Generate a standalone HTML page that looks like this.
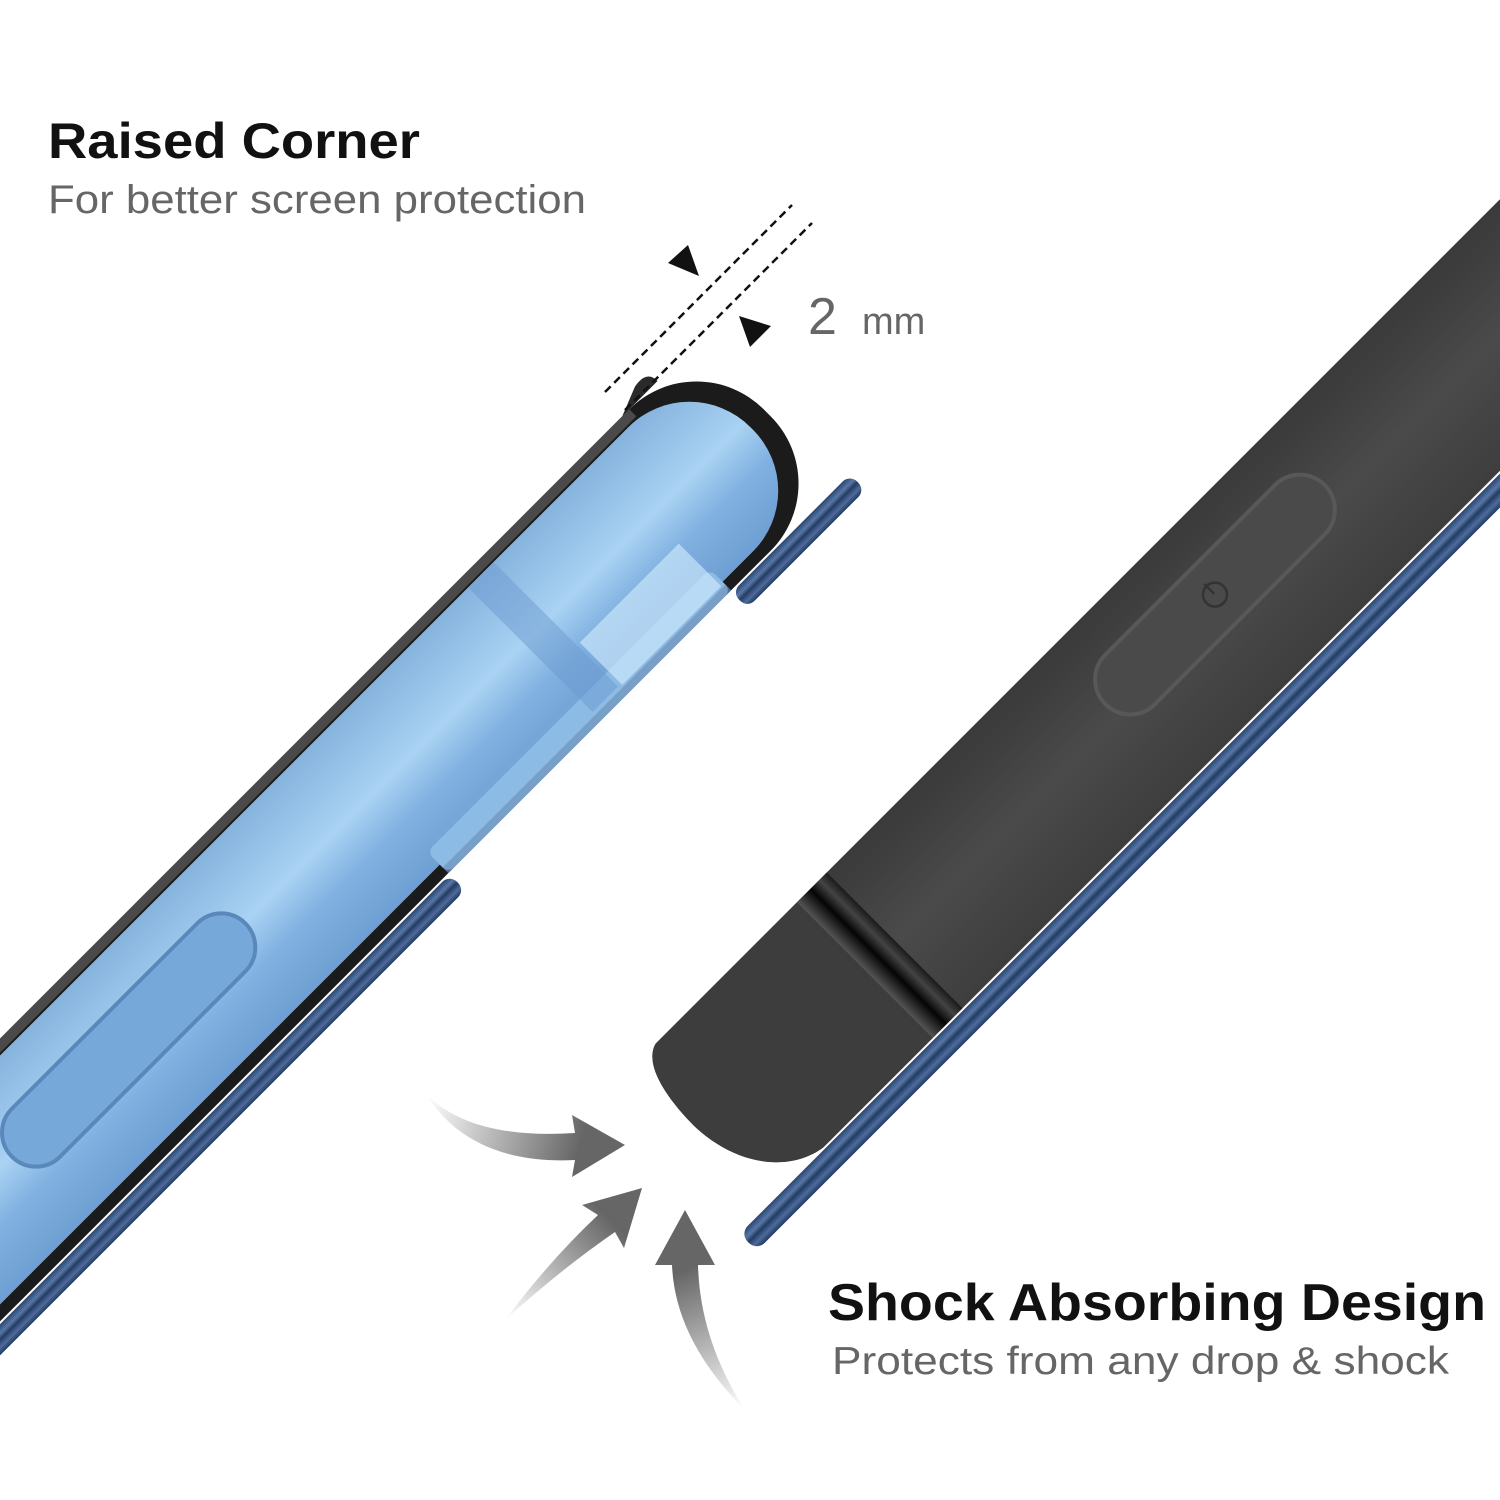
<!DOCTYPE html>
<html><head><meta charset="utf-8"><style>html,body{margin:0;padding:0;background:#fff}svg{display:block}</style></head>
<body>
<svg width="1500" height="1500" viewBox="0 0 1500 1500" xmlns="http://www.w3.org/2000/svg">
<defs>
<linearGradient id="blue" x1="0" y1="0" x2="0" y2="1">
<stop offset="0" stop-color="#86b3de"/><stop offset="0.45" stop-color="#a9d2f3"/><stop offset="0.7" stop-color="#7fb0e0"/><stop offset="1" stop-color="#6f9fd2"/>
</linearGradient>
<linearGradient id="blk" x1="0" y1="0" x2="0" y2="1">
<stop offset="0" stop-color="#3a3a3a"/><stop offset="0.5" stop-color="#4a4a4a"/><stop offset="1" stop-color="#3e3e3e"/>
</linearGradient>
<linearGradient id="ring" x1="0" y1="0" x2="1" y2="0">
<stop offset="0" stop-color="#555"/><stop offset="0.45" stop-color="#050505"/><stop offset="0.75" stop-color="#444"/><stop offset="1" stop-color="#1a1a1a"/>
</linearGradient>
<linearGradient id="rod" x1="0" y1="0" x2="0" y2="1">
<stop offset="0" stop-color="#2a4570"/><stop offset="0.3" stop-color="#5877a6"/><stop offset="0.5" stop-color="#233c63"/><stop offset="0.75" stop-color="#4d6c9c"/><stop offset="1" stop-color="#22395e"/>
</linearGradient>
<linearGradient id="ar1" gradientUnits="userSpaceOnUse" x1="425" y1="1100" x2="580" y2="1145">
<stop offset="0" stop-color="#fff"/><stop offset="1" stop-color="#666"/>
</linearGradient>
<linearGradient id="ar2" gradientUnits="userSpaceOnUse" x1="505" y1="1320" x2="610" y2="1220">
<stop offset="0" stop-color="#fff"/><stop offset="1" stop-color="#666"/>
</linearGradient>
<linearGradient id="ar3" gradientUnits="userSpaceOnUse" x1="745" y1="1410" x2="685" y2="1270">
<stop offset="0" stop-color="#fff"/><stop offset="1" stop-color="#666"/>
</linearGradient>
</defs>

<!-- Left phone -->
<g transform="translate(700,480) rotate(-45)">
  <rect x="-57" y="102" width="167" height="22" rx="10" fill="url(#rod)"/>
  <rect x="-1400" y="102" width="944" height="22" rx="10" fill="url(#rod)"/>
  <rect x="-1400" y="-100" width="1495" height="200" rx="95" fill="#1b1b1b"/>
  <rect x="-1400" y="-100" width="1400" height="10" fill="#4a4a4a"/>
  <path d="M-10,-100 L20,-112 Q40,-116 40,-100 Z" fill="#2a2a2a"/>
  <rect x="-1400" y="-88" width="1473" height="176" rx="86" fill="url(#blue)"/>
  <rect x="-456" y="70" width="400" height="30" rx="8" fill="#8cbbe6"/>
  <rect x="-456" y="92" width="400" height="8" fill="#6f93b8" opacity="0.7"/>
  <rect x="-240" y="-88" width="36" height="176" fill="#6c9ad0" opacity="0.5"/>
  <rect x="-200" y="30" width="140" height="60" fill="#d6efff" opacity="0.6"/>
  <rect x="-965" y="-42" width="330" height="68" rx="34" fill="#76a8da" stroke="#5a88bb" stroke-width="4"/>
</g>

<!-- Right phone -->
<g transform="translate(720,1115) rotate(-45)">
  <rect x="-70" y="98" width="1700" height="24" rx="11" fill="url(#rod)"/>
  <path d="M1700,-96 L5,-96 C-18,-90 -26,-50 -26,-10 C-24,50 10,90 50,96 L1700,96 Z" fill="url(#blk)"/>
  <path d="M210,-96 L5,-96 C-18,-90 -26,-50 -26,-10 C-24,50 10,90 50,96 L210,96 Z" fill="#3d3d3d"/>
  <rect x="205" y="-96" width="42" height="192" fill="url(#ring)"/>
  <rect x="563" y="-53" width="310" height="70" rx="35" fill="#4a4a4a" stroke="#585858" stroke-width="4"/>
  <circle cx="718" cy="-18" r="12" fill="none" stroke="#333" stroke-width="2.5"/>
  <line x1="718" y1="-33" x2="718" y2="-19" stroke="#333" stroke-width="2.5"/>
</g>

<!-- Dashed lines -->
<line x1="605" y1="392" x2="792" y2="205" stroke="#111" stroke-width="2.5" stroke-dasharray="8,5"/>
<line x1="625" y1="410" x2="812" y2="223" stroke="#111" stroke-width="2.5" stroke-dasharray="8,5"/>
<polygon points="668,263 688,245 699,276" fill="#111"/>
<polygon points="739,316 771,326 750,347" fill="#111"/>

<!-- Arrows -->
<path d="M425,1093 Q470,1140 575,1133 L572,1115 L625,1145 L572,1177 L575,1160 Q470,1165 425,1093 Z" fill="url(#ar1)"/>
<path d="M505,1320 Q550,1260 598,1215 L582,1205 L642,1188 L624,1248 L615,1232 Q560,1270 505,1320 Z" fill="url(#ar2)"/>
<path d="M745,1410 Q675,1340 672,1265 L655,1265 L685,1210 L715,1265 L698,1265 Q700,1340 745,1410 Z" fill="url(#ar3)"/>

<!-- Text -->
<text x="48" y="158" font-family="Liberation Sans, sans-serif" font-weight="bold" font-size="50" fill="#111" textLength="372" lengthAdjust="spacingAndGlyphs">Raised Corner</text>
<text x="48" y="213" font-family="Liberation Sans, sans-serif" font-size="40" fill="#666" textLength="538" lengthAdjust="spacingAndGlyphs">For better screen protection</text>
<text x="808" y="334" font-family="Liberation Sans, sans-serif" font-size="52" fill="#666">2</text>
<text x="862" y="334" font-family="Liberation Sans, sans-serif" font-size="38" fill="#666">mm</text>
<text x="828" y="1320" font-family="Liberation Sans, sans-serif" font-weight="bold" font-size="52" fill="#111" textLength="658" lengthAdjust="spacingAndGlyphs">Shock Absorbing Design</text>
<text x="832" y="1374" font-family="Liberation Sans, sans-serif" font-size="39" fill="#666" textLength="617" lengthAdjust="spacingAndGlyphs">Protects from any drop &amp; shock</text>
</svg>
</body></html>
